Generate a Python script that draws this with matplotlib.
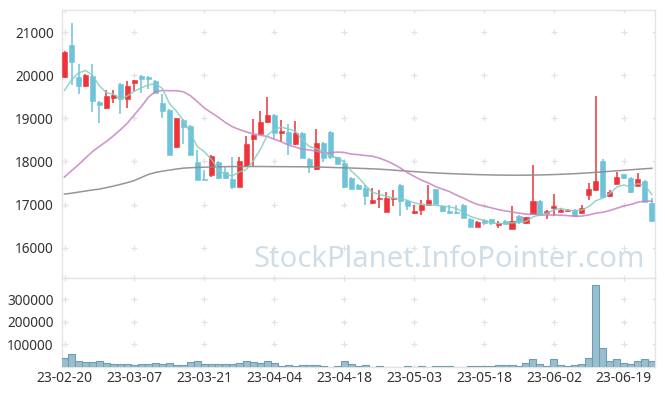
import matplotlib
matplotlib.use("Agg")
import matplotlib.pyplot as plt

tick_labels = ["23-02-20", "23-03-07", "23-03-21", "23-04-04", "23-04-18",
               "23-05-03", "23-05-18", "23-06-02", "23-06-19"]

opens = [19950, 20700, 19960, 19740, 19990, 19380, 19230, 19480, 19800, 19450,
         19830, 19990, 19960, 19870, 19350, 19200, 18330, 18970, 18830, 17980,
         17600, 17680, 17990, 17750, 17600, 17410, 17900, 18530, 18640, 18910,
         19080, 18660, 18690, 18400, 18670, 18060, 17820, 18430, 18690, 18100,
         17960, 17620, 17460, 17390, 17040, 17130, 16830, 17130, 17460, 17090,
         16800, 16880, 17000, 17360, 16970, 16860, 16820, 17000, 16670, 16490,
         16650, 16660, 16520, 16620, 16440, 16740, 16570, 16790, 17090, 16800,
         16930, 16840, 16850, 16880, 16800, 17230, 17330, 18020, 17190, 17480,
         17700, 17620, 17440, 17550, 17040]
highs = [20550, 21210, 20260, 20020, 20270, 19390, 19660, 19660, 19810, 19860,
         19890, 20000, 19970, 19880, 19560, 19210, 19000, 18980, 18840, 18260,
         17810, 18150, 18000, 17880, 18100, 18100, 18580, 18980, 19160, 19490,
         19090, 18970, 18870, 18940, 18680, 18070, 18750, 18440, 18700, 18110,
         18040, 17630, 17470, 17460, 17380, 17330, 17300, 17350, 17470, 17100,
         17000, 17110, 17450, 17370, 16980, 16990, 17000, 17010, 16680, 16610,
         16660, 16670, 16630, 16640, 16960, 16750, 16720, 17910, 17100, 16870,
         17250, 16910, 16910, 16890, 17000, 17500, 19520, 18050, 17350, 17750,
         17720, 17630, 17730, 17560, 17150]
lows = [19940, 19780, 19570, 19730, 19150, 18890, 19220, 19350, 19100, 19240,
        19640, 19590, 19690, 19580, 19010, 18150, 18320, 18400, 18150, 17570,
        17570, 17640, 17600, 17600, 17360, 17400, 17890, 17900, 18630, 18900,
        18520, 18460, 18150, 18390, 18090, 17730, 17810, 17990, 18050, 17940,
        17390, 17360, 17360, 17000, 17010, 16920, 16820, 16970, 16730, 16880,
        16790, 16765, 16990, 17010, 16840, 16790, 16790, 16700, 16490, 16480,
        16520, 16530, 16460, 16540, 16430, 16560, 16560, 16780, 16760, 16670,
        16740, 16830, 16830, 16740, 16790, 17110, 17320, 17160, 17180, 17470,
        17600, 17280, 17430, 17060, 16590]
closes = [20540, 20300, 19740, 20010, 19390, 19320, 19520, 19550, 19450, 19750,
          19880, 19900, 19900, 19590, 19180, 18160, 19000, 18810, 18160, 17580,
          17580, 18130, 17610, 17610, 17410, 18020, 18410, 18620, 18920, 19080,
          18660, 18700, 18410, 18660, 18090, 17890, 18430, 18090, 18100, 17940,
          17400, 17370, 17370, 17190, 17110, 17160, 17160, 17150, 17080, 16960,
          16860, 16990, 17100, 17020, 16850, 16800, 16800, 16700, 16490, 16600,
          16570, 16570, 16570, 16560, 16630, 16590, 16710, 17090, 16770, 16860,
          16960, 16880, 16880, 16740, 16920, 17370, 17550, 17170, 17300, 17650,
          17610, 17290, 17590, 17070, 16630]
volumes = [38800, 56700, 26900, 20900, 20900, 25400, 16400, 11900, 14900, 14900,
           7500, 11900, 11900, 16400, 11900, 16400, 7500, 7500, 20900, 25400,
           11900, 11900, 11900, 11900, 11900, 16400, 25400, 20900, 16400, 25400,
           16400, 3000, 7500, 3000, 7500, 7500, 7500, 3000, 2000, 3000,
           26900, 11900, 3000, 7500, 800, 3000, 800, 800, 800, 3000,
           800, 3000, 800, 3000, 3000, 3000, 800, 800, 3000, 3000,
           3000, 3000, 7500, 7500, 7500, 3000, 19400, 34300, 11900, 3000,
           34300, 7500, 3000, 7500, 11900, 38800, 362700, 83600, 25400, 34300,
           16400, 11900, 25400, 34300, 26900]
ma5 = [19650, 19890, 20050, 20110, 19996, 19752, 19596, 19558, 19446, 19518,
       19630, 19706, 19776, 19804, 19690, 19346, 19166, 18948, 18662, 18342,
       18226, 18052, 17812, 17702, 17668, 17756, 17812, 18014, 18276, 18610,
       18738, 18796, 18754, 18702, 18504, 18350, 18296, 18232, 18120, 18090,
       17992, 17780, 17636, 17454, 17288, 17240, 17198, 17154, 17132, 17102,
       17042, 17008, 16998, 16986, 16964, 16952, 16914, 16834, 16728, 16678,
       16632, 16586, 16560, 16574, 16580, 16584, 16612, 16716, 16758, 16804,
       16878, 16912, 16870, 16864, 16876, 16958, 17092, 17150, 17262, 17408,
       17456, 17404, 17488, 17442, 17236]
ma20 = [17640, 17785, 17925, 18080, 18230, 18350, 18465, 18595, 18735, 18890,
        19085, 19275, 19490, 19620, 19645, 19640, 19640, 19615, 19525, 19387,
        19239, 19130, 19024, 18904, 18805, 18740, 18684, 18638, 18611, 18578,
        18517, 18457, 18382, 18336, 18281, 18268, 18239, 18203, 18200, 18218,
        18209, 18171, 18159, 18138, 18123, 18080, 18018, 17944, 17852, 17746,
        17656, 17571, 17505, 17423, 17361, 17307, 17225, 17156, 17075, 17008,
        16967, 16927, 16887, 16855, 16831, 16803, 16780, 16777, 16762, 16757,
        16762, 16756, 16745, 16731, 16735, 16763, 16801, 16824, 16865, 16917,
        16969, 17005, 17056, 17082, 17081]
ma_long = [17245, 17265, 17290, 17315, 17340, 17360, 17395, 17430, 17470, 17510,
           17560, 17630, 17700, 17745, 17775, 17800, 17825, 17845, 17855, 17862,
           17868, 17872, 17876, 17880, 17882, 17883, 17884, 17884, 17883, 17882,
           17881, 17880, 17879, 17878, 17877, 17875, 17872, 17868, 17863, 17858,
           17853, 17848, 17842, 17836, 17830, 17822, 17812, 17800, 17788, 17776,
           17765, 17754, 17744, 17735, 17727, 17720, 17713, 17707, 17701, 17696,
           17692, 17688, 17685, 17683, 17682, 17682, 17683, 17685, 17688, 17692,
           17697, 17703, 17710, 17718, 17727, 17737, 17748, 17760, 17772, 17784,
           17796, 17808, 17820, 17832, 17842]

price_ticks = [16000, 17000, 18000, 19000, 20000, 21000]
vol_ticks = [100000, 200000, 300000]

UP = "#ee3339"
DOWN = "#6cc3da"
GRID = "#e2e2e2"
SPINE = "#e4e4e4"

plt.rcParams['font.family'] = ['Noto Sans', 'DejaVu Sans']

fig = plt.figure(figsize=(6.65, 3.96), dpi=100)
ax1 = fig.add_axes([62 / 665, 1 - 278 / 396, 593 / 665, 268 / 396])
ax2 = fig.add_axes([62 / 665, 1 - 367 / 396, 593 / 665, 89 / 396], sharex=ax1)

n = len(closes)
xs = list(range(n))

# watermark
fig.text(449 / 665, 1 - 267 / 396, "StockPlanet.InfoPointer.com", fontsize=21,
         color="#cfdde8", ha="center", va="baseline", zorder=0)

# candles
for i in xs:
    c = UP if closes[i] >= opens[i] else DOWN
    ax1.vlines(i, lows[i], highs[i], color=c, lw=1.1, zorder=3)
    body = abs(closes[i] - opens[i])
    ax1.bar(i, max(body, 20), bottom=min(opens[i], closes[i]), width=0.72,
            color=c, edgecolor=c, lw=0.4, zorder=4)

ax1.plot(xs, ma_long, color="#8a8a8a", lw=1.1, alpha=0.9, zorder=5)
ax1.plot(xs, ma20, color="#c984c2", lw=1.2, alpha=0.85, zorder=5)
ax1.plot(xs, ma5, color="#86cdc0", lw=1.1, alpha=0.85, zorder=5)

ax2.bar(xs, volumes, width=1.0, color="#98bfcf", edgecolor="#6f9db2", lw=0.8, zorder=3)

xlim = (-0.36, 84.45)
xtick_pos = list(range(0, n, 10))
for ax, yt, ylim in [(ax1, price_ticks, (15300, 21510)), (ax2, vol_ticks, (0, 395000))]:
    ax.set_xlim(*xlim)
    ax.set_ylim(*ylim)
    ax.set_yticks(yt)
    ax.set_yticklabels([str(v) for v in yt])
    ax.tick_params(length=0, labelsize=9.8, colors="#333333", pad=6)
    for s in ax.spines.values():
        s.set_color(SPINE)
        s.set_linewidth(1.0)
    gx = xtick_pos + [xlim[1]]
    gy = list(yt) + [ylim[0], ylim[1]]
    px = [x for x in gx for y in gy]
    py = [y for x in gx for y in gy]
    ax.plot(px, py, ls="none", marker="+", ms=4.5, mew=0.9, color=GRID, zorder=1)

ax1.tick_params(labelbottom=False)
ax2.set_xticks(xtick_pos)
ax2.set_xticklabels(tick_labels)
ax2.tick_params(axis="x", pad=3, labelsize=10)

fig.savefig("out.png", dpi=100)
